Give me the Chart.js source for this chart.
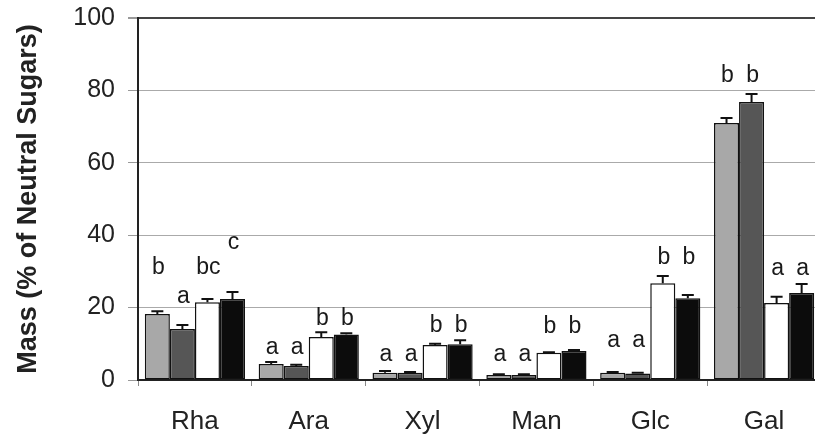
<!DOCTYPE html>
<html>
<head>
<meta charset="utf-8">
<script src="https://cdn.jsdelivr.net/npm/chart.js@4/dist/chart.umd.min.js"></script>
<style>
html,body{margin:0;padding:0;background:#fff;overflow:hidden;}
#wrap{position:relative;width:826px;height:442px;}
</style>
</head>
<body>
<div id="wrap"><canvas id="c" width="826" height="442"></canvas></div>
<script>
const categories = ['Rha', 'Ara', 'Xyl', 'Man', 'Glc', 'Gal'];
const yTicks = [0, 20, 40, 60, 80, 100];

const series1 = [18.2, 4.4, 2.0, 1.4, 2.0, 71.0];
const series2 = [14.1, 3.9, 2.0, 1.4, 1.8, 76.8];
const series3 = [21.5, 11.9, 9.7, 7.5, 26.7, 21.3];
const series4 = [22.4, 12.6, 9.9, 8.0, 22.6, 24.0];

const error1 = [0.8, 0.6, 0.5, 0.2, 0.2, 1.4];
const error2 = [1.1, 0.3, 0.2, 0.2, 0.2, 2.2];
const error3 = [0.9, 1.3, 0.3, 0.2, 2.0, 1.7];
const error4 = [1.9, 0.3, 1.1, 0.3, 0.9, 2.5];

const letters1 = ['b', 'a', 'a', 'a', 'a', 'b'];
const letters2 = ['a', 'a', 'a', 'a', 'a', 'b'];
const letters3 = ['bc', 'b', 'b', 'b', 'b', 'a'];
const letters4 = ['c', 'b', 'b', 'b', 'b', 'a'];

const letterLevel1 = [31, 9, 7, 7, 11, 84];
const letterLevel2 = [23, 9, 7, 7, 11, 84];
const letterLevel3 = [31, 17, 15, 14.6, 33.7, 30.7];
const letterLevel4 = [38, 17, 15, 14.6, 33.7, 30.7];

const errors = [error1, error2, error3, error4];
const letters = [letters1, letters2, letters3, letters4];
const letterLevels = [letterLevel1, letterLevel2, letterLevel3, letterLevel4];

const FONT = '"Liberation Sans", Arial, sans-serif';

const annotate = {
  id: 'annotate',
  afterDatasetsDraw(chart) {
    const ctx = chart.ctx;
    const y = chart.scales.y;
    ctx.save();
    chart.data.datasets.forEach((ds, di) => {
      const meta = chart.getDatasetMeta(di);
      meta.data.forEach((bar, i) => {
        const v = ds.data[i];
        const top = y.getPixelForValue(v + errors[di][i]);
        const base = y.getPixelForValue(v);
        ctx.strokeStyle = '#111';
        ctx.lineWidth = 2;
        ctx.beginPath();
        ctx.moveTo(bar.x, base);
        ctx.lineTo(bar.x, top);
        ctx.moveTo(bar.x - 6, top);
        ctx.lineTo(bar.x + 6, top);
        ctx.stroke();
        ctx.fillStyle = '#1a1a1a';
        ctx.font = '23px ' + FONT;
        ctx.textAlign = 'center';
        ctx.textBaseline = 'middle';
        ctx.fillText(letters[di][i], bar.x + 1, y.getPixelForValue(letterLevels[di][i]));
      });
    });
    ctx.restore();
  }
};

const mk = (data, color) => ({
  data: data,
  backgroundColor: color,
  borderColor: '#111',
  borderWidth: 1.5,
  borderSkipped: false,
  barPercentage: 1.0,
  categoryPercentage: 0.88
});

new Chart(document.getElementById('c'), {
  type: 'bar',
  data: {
    labels: categories,
    datasets: [
      mk(series1, '#a8a8a8'),
      mk(series2, '#565656'),
      mk(series3, '#ffffff'),
      mk(series4, '#0c0c0c')
    ]
  },
  options: {
    responsive: false,
    animation: false,
    events: [],
    layout: { padding: { top: 18, right: 5, left: 0, bottom: 0 } },
    plugins: { legend: { display: false }, tooltip: { enabled: false } },
    scales: {
      x: {
        offset: true,
        grid: {
          display: true,
          offset: true,
          drawOnChartArea: false,
          drawTicks: true,
          tickLength: 6,
          color: '#888',
          lineWidth: 1
        },
        border: { display: true, color: '#222', width: 2 },
        ticks: {
          color: '#222',
          padding: 20,
          font: { family: FONT, size: 26 }
        },
        afterFit(s) { s.height = 62; s.paddingLeft = 0; s.paddingRight = 0; }
      },
      y: {
        min: 0,
        max: 100,
        afterBuildTicks(s) { s.ticks = yTicks.map(v => ({ value: v })); },
        grid: {
          color: (c) => c.tick && c.tick.value === 100 ? '#444' : '#aaa',
          lineWidth: (c) => c.tick && c.tick.value === 100 ? 2 : 1,
          tickLength: 10,
          tickColor: '#999'
        },
        border: { display: true, color: '#222', width: 2 },
        ticks: {
          color: '#222',
          padding: 13,
          font: { family: FONT, size: 25 }
        },
        title: {
          display: true,
          text: 'Mass (% of Neutral Sugars)',
          color: '#222',
          font: { family: FONT, size: 27, weight: 'bold' },
          padding: { top: 12, bottom: 0 }
        },
        afterFit(s) { s.width = 138; s.paddingTop = 0; s.paddingBottom = 0; }
      }
    }
  },
  plugins: [annotate]
});
</script>
</body>
</html>
